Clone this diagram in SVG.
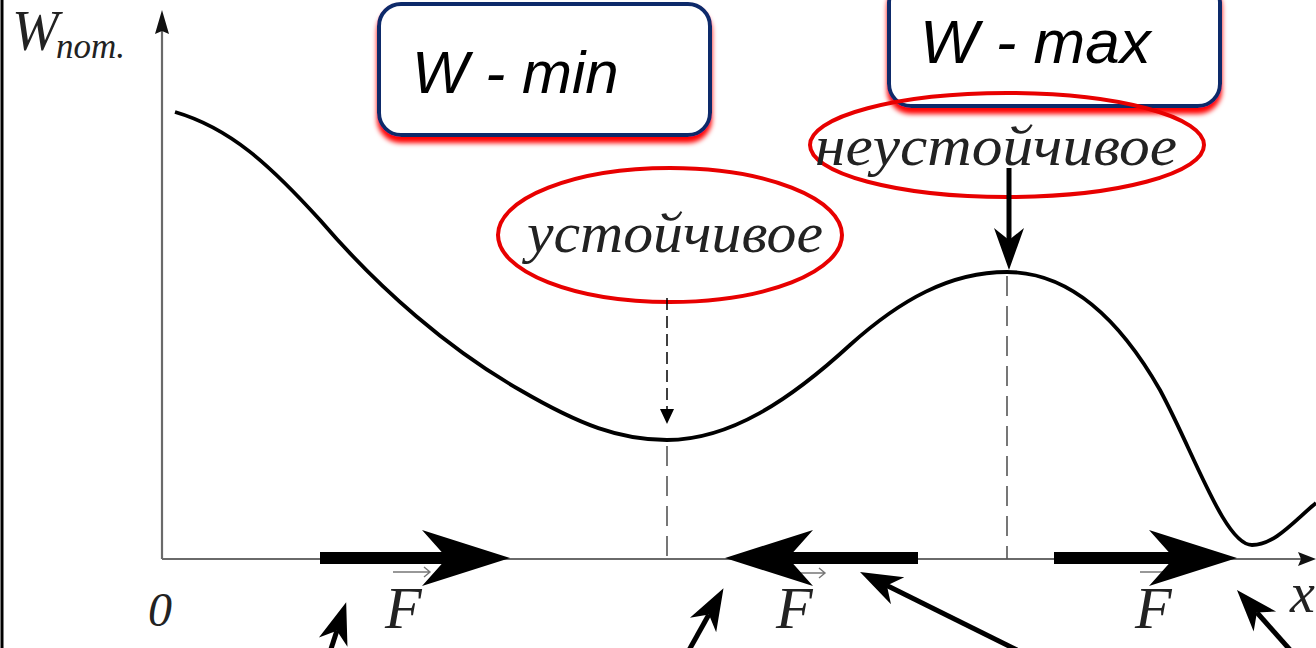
<svg xmlns="http://www.w3.org/2000/svg" width="1316" height="648" viewBox="0 0 1316 648">
  <style>
    .serif { font-family: "Liberation Serif", "DejaVu Serif", serif; font-style: italic; fill: #222; }
    .sans { font-family: "Liberation Sans", Arial, sans-serif; font-style: italic; fill: #000; }
    .box { fill: #fff; stroke: #0d2a6b; stroke-width: 4; filter: url(#redglow); }
    .oval { fill: none; stroke: #e80000; stroke-width: 4; }
    .axis { stroke: #6a6a6a; stroke-width: 2.2; fill: none; }
    .guide { stroke: #555; stroke-width: 1.6; stroke-dasharray: 20 10; fill: none; }
    .force { stroke: #000; stroke-width: 12; fill: none; marker-end: url(#fhead); }
    .pointer { stroke: #000; stroke-width: 5; fill: none; marker-end: url(#phead); }
    .vec { stroke: #777; stroke-width: 1.4; fill: none; }
  </style>
  <defs>
    <filter id="redglow" x="-10%" y="-20%" width="120%" height="150%">
      <feDropShadow dx="0" dy="6" stdDeviation="2.5" flood-color="#ff0000" flood-opacity="1"/>
    </filter>
    <marker id="fhead" markerUnits="userSpaceOnUse" viewBox="-30 -30 100 60" markerWidth="100" markerHeight="60" refX="0" refY="0" orient="auto" overflow="visible">
      <path d="M63,0 L-25,-28 L0,0 L-25,28 Z" fill="#000"/>
    </marker>
    <marker id="phead" markerUnits="userSpaceOnUse" viewBox="-15 -16 48 32" markerWidth="48" markerHeight="32" refX="0" refY="0" orient="auto" overflow="visible">
      <path d="M30,0 L-12,-15 L0,0 L-12,15 Z" fill="#000"/>
    </marker>
  </defs>

  <rect x="0" y="0" width="1316" height="648" fill="#fff"/>
  <line x1="2" y1="0" x2="2" y2="648" stroke="#000" stroke-width="3"/>

  <g id="axes">
    <line class="axis" x1="162" y1="28" x2="162" y2="559"/>
    <polygon points="162,10 155,34 162,31 169,34" fill="#111"/>
    <line class="axis" x1="162" y1="559" x2="1302" y2="559"/>
    <polygon points="1316,559 1298,552 1301,559 1298,566" fill="#111"/>
    <text class="serif" x="12" y="50" font-size="56">W</text>
    <text class="serif" x="56" y="58" font-size="35">nom.</text>
    <text class="serif" x="148" y="626" font-size="48">0</text>
    <text class="serif" x="1290" y="612" font-size="56">x</text>
  </g>

  <g id="guides">
    <line class="guide" x1="667" y1="446" x2="667" y2="559"/>
    <line class="guide" x1="1007" y1="276" x2="1007" y2="559"/>
  </g>

  <g id="curve">
    <path d="M175,112 C230,128 270,165 320,220 C380,290 450,350 520,390 C580,425 620,440 667,440 C730,440 790,400 850,345 C900,300 950,272 1007,272 C1070,272 1120,320 1160,390 C1195,455 1225,545 1252,545 C1275,545 1295,520 1316,503" fill="none" stroke="#000" stroke-width="3.8"/>
  </g>

  <g id="box-min">
    <rect class="box" x="379" y="4" width="331" height="131" rx="22"/>
    <text class="sans" x="412" y="93" font-size="60">W - min</text>
  </g>

  <g id="box-max">
    <rect class="box" x="889" y="-20" width="331" height="126" rx="22"/>
    <text class="sans" x="920" y="63" font-size="62">W - max</text>
  </g>

  <g id="label-stable">
    <ellipse class="oval" cx="670" cy="235" rx="172" ry="67"/>
    <text class="serif" x="527" y="252" font-size="56" textLength="296" lengthAdjust="spacingAndGlyphs">устойчивое</text>
  </g>

  <g id="label-unstable">
    <ellipse class="oval" cx="1007" cy="145" rx="197" ry="52"/>
    <text class="serif" x="815" y="165" font-size="56" textLength="362" lengthAdjust="spacingAndGlyphs">неустойчивое</text>
  </g>

  <g id="force-labels">
    <text class="serif" x="385" y="628" font-size="60">F</text>
    <path class="vec" d="M393,572 H430 M424,567 L430,572 L424,577"/>
    <text class="serif" x="776" y="628" font-size="60">F</text>
    <path class="vec" d="M785,573 H825 M819,568 L825,573 L819,578"/>
    <text class="serif" x="1135" y="628" font-size="60">F</text>
    <path class="vec" d="M1140,572 H1180 M1174,567 L1180,572 L1174,577"/>
  </g>

  <g id="connectors">
    <line x1="667" y1="298" x2="667" y2="412" stroke="#000" stroke-width="1.5" stroke-dasharray="12 6"/>
    <polygon points="660,409 674,409 667,424" fill="#000"/>
    <line class="pointer" x1="1009" y1="168" x2="1009" y2="240" stroke-width="6"/>
    <line class="force" x1="320" y1="558" x2="447" y2="558"/>
    <line class="force" x1="918" y1="558" x2="788" y2="558"/>
    <line class="force" x1="1054" y1="558" x2="1174" y2="558"/>
    <line class="pointer" x1="330" y1="652" x2="336.9" y2="630.8"/>
    <line class="pointer" x1="688" y1="652" x2="708.9" y2="614.5"/>
    <line class="pointer" x1="1017" y1="650" x2="886.9" y2="585.4"/>
    <line class="pointer" x1="1292" y1="652" x2="1256.9" y2="612.5"/>
  </g>
</svg>
